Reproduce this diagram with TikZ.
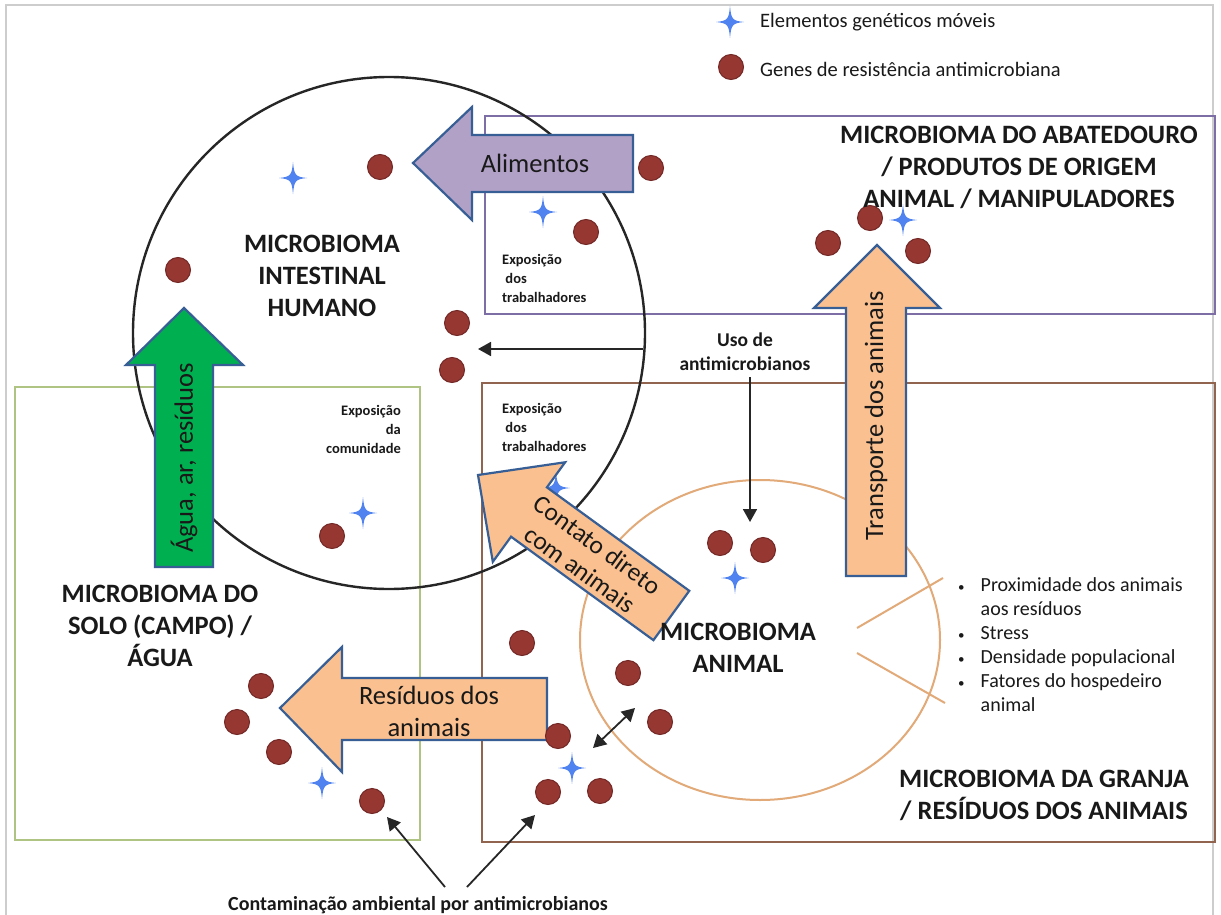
\documentclass[tikz,border=0pt]{standalone}
\usepackage{fontspec}
\setmainfont{Carlito}
\usetikzlibrary{arrows.meta}
\definecolor{dotred}{RGB}{150,55,50}
\definecolor{dotedge}{RGB}{115,40,38}
\definecolor{starblue}{RGB}{80,130,240}
\definecolor{purpbox}{RGB}{125,110,165}
\definecolor{brownbox}{RGB}{145,100,80}
\definecolor{greenbox}{RGB}{175,195,130}
\definecolor{tanline}{RGB}{225,170,120}
\definecolor{orfill}{RGB}{250,192,143}
\definecolor{arredge}{RGB}{55,95,150}
\definecolor{purfill}{RGB}{178,161,199}
\definecolor{grnfill}{RGB}{0,176,80}
\definecolor{txt}{RGB}{25,25,25}
\definecolor{framegray}{RGB}{205,205,205}
\newcommand{\smbul}{{\fontsize{13}{13}\selectfont\textbullet}}
\tikzset{
  gstar/.pic={\fill[starblue] (0,-16) .. controls (1.2,-2.5) and (2.5,-1.2) .. (14,0)
     .. controls (2.5,1.2) and (1.2,2.5) .. (0,16)
     .. controls (-1.2,2.5) and (-2.5,1.2) .. (-14,0)
     .. controls (-2.5,-1.2) and (-1.2,-2.5) .. cycle;},
  dot/.style={circle, fill=dotred, draw=dotedge, line width=1pt, minimum size=25pt, inner sep=0pt},
  blockar/.style={draw=arredge, line width=2.2pt, line join=miter},
  title/.style={font=\bfseries\fontsize{26.5}{32}\selectfont, align=center, inner sep=0pt, text=txt},
  artext/.style={font=\fontsize{26.5}{32}\selectfont, align=center, inner sep=0pt, text=txt},
  expo/.style={font=\bfseries\fontsize{14.5}{19}\selectfont, inner sep=0pt, text=txt},
  arr/.style={-{Triangle[length=13pt,width=14pt]}, line width=1.8pt, draw=black!85},
  darr/.style={{Triangle[length=13pt,width=14pt]}-{Triangle[length=13pt,width=14pt]}, line width=1.8pt, draw=black!85},
}
\begin{document}
\begin{tikzpicture}[x=1pt,y=-1pt]
\useasboundingbox (0,0) rectangle (1221,915);
\fill[white] (0,0) rectangle (1221,915);
% outer frame
\draw[framegray, line width=1.5pt] (6,915) -- (6,5) -- (1213,5) -- (1213,915);
% boxes
\draw[purpbox, line width=2pt] (485,116) rectangle (1215,314);
\draw[brownbox, line width=2pt] (482,383) rectangle (1215,842);
\draw[greenbox, line width=2pt] (15,387) rectangle (420,840);
% circles
\draw[black!85, line width=2.4pt] (389,333) circle [radius=256];
\draw[tanline, line width=2pt] (760,640) ellipse [x radius=180, y radius=160];
\coordinate (t1a) at (857,628); \coordinate (t1b) at (943,578);
\coordinate (t2a) at (857,653); \coordinate (t2b) at (945,703);
\draw[tanline, line width=2pt] (t1a) -- (t1b);
\draw[tanline, line width=2pt] (t2a) -- (t2b);
% legend
\pic at (730,22) {gstar};
\node[font=\fontsize{20.5}{24}\selectfont, anchor=west, inner sep=0pt, text=txt] (leg1) at (760,22) {Elementos genéticos móveis};
\node[font=\fontsize{20.5}{24}\selectfont, anchor=west, inner sep=0pt, text=txt] (leg2) at (760,69) {Genes de resistência antimicrobiana};
% small labels
\node[expo, align=left, anchor=west] (exp1) at (502,278) {Exposição\\\ dos\\trabalhadores};
\node[expo, align=left, anchor=west] (exp2) at (502,427) {Exposição\\\ dos\\trabalhadores};
\node[expo, align=right, anchor=east] (exp3) at (401,429) {Exposição\\da\\comunidade};
% stars
\foreach \p in {(293,178),(543,212),(903,220),(363,513),(556,488),(735,578),(572,768),(322,783)}
  \pic at \p {gstar};
% black arrows
\node[font=\bfseries\fontsize{19.5}{24}\selectfont, align=center, inner sep=0pt, text=txt] (uso) at (745,352) {Uso de\\antimicrobianos};
\coordinate (usoA) at (643,349); \coordinate (usoB) at (478,349);
\coordinate (usoC) at (750,377); \coordinate (usoD) at (750,522);
\draw[arr] (usoA) -- (usoB);
\draw[arr] (usoC) -- (usoD);
\coordinate (dbA) at (593,748); \coordinate (dbB) at (635,708);
\draw[darr] (dbA) -- (dbB);
\node[font=\bfseries\fontsize{20}{24}\selectfont, inner sep=0pt, text=txt] (cont) at (418,905) {Contaminação ambiental por antimicrobianos};
\coordinate (cA) at (445,887); \coordinate (cB) at (387,817);
\coordinate (cC) at (467,887); \coordinate (cD) at (535,815);
\draw[arr] (cA) -- (cB);
\draw[arr] (cC) -- (cD);
% block arrows
\draw[blockar, fill=purfill] (413,163) -- (472,107) -- (472,135) -- (633,135) -- (633,192) -- (472,192) -- (472,220) -- cycle;
\node[artext] (alim) at (535,163) {Alimentos};
\draw[blockar, fill=grnfill] (184,308) -- (243,365) -- (213,365) -- (213,567) -- (155,567) -- (155,365) -- (126,365) -- cycle;
\node[artext, rotate=90] (agua) at (184,458) {Água, ar, resíduos};
\draw[blockar, fill=orfill] (877,245) -- (940,308) -- (906,308) -- (906,576) -- (846,576) -- (846,308) -- (814,308) -- cycle;
\node[artext, rotate=90] (transp) at (876,416) {Transporte dos animais};
\draw[blockar, fill=orfill] (280,708) -- (342,647) -- (342,678) -- (547,678) -- (547,740) -- (342,740) -- (342,772) -- cycle;
\node[artext] (resid) at (429,711) {Resíduos dos\\animais};
\begin{scope}[shift={(478,475)}, rotate=-36]
\draw[blockar, fill=orfill] (0,0) -- (63,-61.5) -- (63,-30.5) -- (239,-30.5) -- (239,30.5) -- (63,30.5) -- (63,61.5) -- cycle;
\end{scope}
\node[artext, rotate=-36, font=\fontsize{25.5}{30}\selectfont] (contato) at (589,557) {Contato direto\\com animais};
% dots
\foreach \n/\p in {1/{(731,67)},2/{(380,167)},3/{(651,168)},4/{(586,232)},5/{(178,270)},6/{(457,323)},7/{(452,370)},
  8/{(870,218)},9/{(828,243)},10/{(918,251)},11/{(332,536)},12/{(720,543)},13/{(763,550)},14/{(522,643)},
  15/{(628,673)},16/{(660,722)},17/{(261,686)},18/{(237,722)},19/{(279,752)},20/{(372,801)},21/{(558,736)},
  22/{(548,792)},23/{(600,791)}}
  \node[dot] (d\n) at \p {};
% titles
\node[title] (abat) at (1019,167) {MICROBIOMA DO ABATEDOURO\\/ PRODUTOS DE ORIGEM\\ANIMAL / MANIPULADORES};
\node[title] (hum) at (322,276) {MICROBIOMA\\INTESTINAL\\HUMANO};
\node[title] (solo) at (160,626) {MICROBIOMA DO\\SOLO (CAMPO) /\\ÁGUA};
\node[title] (anim) at (738,648) {MICROBIOMA\\ANIMAL};
\node[title] (granja) at (1044,795) {MICROBIOMA DA GRANJA\\/ RESÍDUOS DOS ANIMAIS};
% bullets
\node[anchor=north west, inner sep=0pt, text=txt, font=\fontsize{20}{24}\selectfont] (bul) at (958,574)
 {\renewcommand{\arraystretch}{1}\begin{tabular}{@{}l@{\hspace{16pt}}l@{}}
 \smbul & Proximidade dos animais\\
  & aos resíduos\\
 \smbul & Stress\\
 \smbul & Densidade populacional\\
 \smbul & Fatores do hospedeiro\\
  & animal
 \end{tabular}};
\end{tikzpicture}
\end{document}
